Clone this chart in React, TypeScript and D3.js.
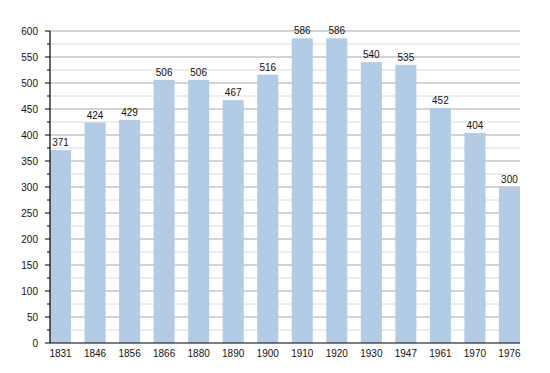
import * as d3 from 'd3'

const years = ['1831', '1846', '1856', '1866', '1880', '1890', '1900', '1910', '1920', '1930', '1947', '1961', '1970', '1976']
const population = [371, 424, 429, 506, 506, 467, 516, 586, 586, 540, 535, 452, 404, 300]
const majorTicks = d3.range(0, 601, 50)
const minorTicks = d3.range(25, 600, 50)

export default function App() {
  const width = 550
  const height = 373
  const margin = { top: 31, right: 30, bottom: 30, left: 50 }
  const innerW = width - margin.left - margin.right
  const innerH = height - margin.top - margin.bottom

  const x = d3.scaleBand<string>()
    .domain(years)
    .range([0, innerW])
    .paddingInner(0.39)
    .paddingOuter(0)

  const y = d3.scaleLinear().domain([0, 600]).range([innerH, 0])

  return (
    <svg width={width} height={height} style={{ position: 'fixed', left: 0, top: 0, fontFamily: 'Liberation Sans, Arial, sans-serif' }}>
      <rect width={width} height={height} fill="#fff" />
      <g transform={`translate(${margin.left},${margin.top})`}>
        {minorTicks.map(t => (
          <line key={'mg' + t} x1={0} x2={innerW} y1={y(t)} y2={y(t)} stroke="#dcdcdc" strokeWidth={1} />
        ))}
        {majorTicks.filter(t => t > 0).map(t => (
          <line key={'g' + t} x1={0} x2={innerW} y1={y(t)} y2={y(t)} stroke="#a8a8a8" strokeWidth={1} />
        ))}
        {years.map((yr, i) => (
          <rect key={yr} x={x(yr)} y={y(population[i])} width={x.bandwidth()} height={innerH - y(population[i])} fill="#b2cce6" />
        ))}
        {years.map((yr, i) => (
          <text key={'l' + yr} x={(x(yr) || 0) + x.bandwidth() / 2} y={y(population[i]) - 4} textAnchor="middle" fontSize={10} fill="#111">
            {population[i]}
          </text>
        ))}
        <line x1={0} x2={0} y1={0} y2={innerH} stroke="#000" strokeWidth={1.2} />
        <line x1={0} x2={innerW} y1={innerH} y2={innerH} stroke="#000" strokeWidth={1.2} />
        {majorTicks.map(t => (
          <g key={'t' + t}>
            <line x1={-5} x2={0} y1={y(t)} y2={y(t)} stroke="#000" />
            <text x={-12} y={y(t)} dy="0.35em" textAnchor="end" fontSize={10} fill="#111">{t}</text>
          </g>
        ))}
        {minorTicks.map(t => (
          <line key={'mt' + t} x1={-3} x2={0} y1={y(t)} y2={y(t)} stroke="#000" />
        ))}
        {years.map(yr => (
          <text key={'x' + yr} x={(x(yr) || 0) + x.bandwidth() / 2} y={innerH + 14} textAnchor="middle" fontSize={10} fill="#111">
            {yr}
          </text>
        ))}
      </g>
    </svg>
  )
}
